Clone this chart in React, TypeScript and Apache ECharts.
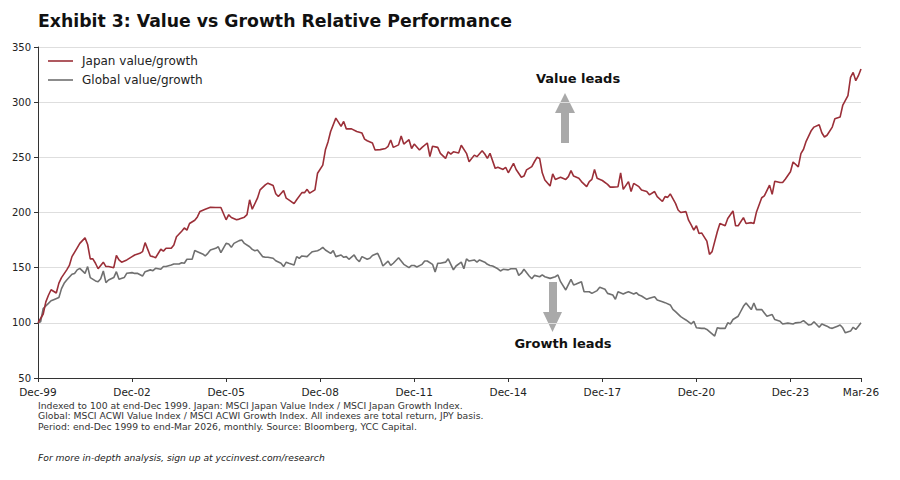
import React, { useEffect, useRef } from "react";
import * as echarts from "echarts";

// Months since end-Dec 1999, paired with the indexed value/growth ratio (Dec-99 = 100)
const japanValueGrowth: [number, number][] = [
  [0, 100], [2, 108], [3, 119], [4, 125], [5, 130], [7, 127], [8, 136], [9, 141], [11, 148], [12, 152],
  [13, 160], [15, 168], [16, 172], [18, 177], [19, 171], [20, 158], [21, 158], [22, 154], [23, 149], [25, 155],
  [26, 151], [27, 151], [29, 150], [30, 161], [31, 157], [32, 155], [34, 157], [36, 160], [37, 161.5], [39, 163],
  [40, 164.5], [41, 172.7], [43, 160.6], [44, 160], [45, 159], [47, 166.7], [48, 165], [49, 167.6], [51, 167.6], [52, 170.6],
  [53, 178], [55, 183], [56, 186], [57, 184], [58, 190], [60, 193], [61, 196], [62, 201], [64, 203], [66, 204.8],
  [68, 204.5], [70, 204.5], [72, 193.4], [73, 198], [74, 195.5], [76, 193.4], [77, 194], [79, 195.8], [80, 198], [81, 211.5],
  [82, 203], [84, 213], [85, 220.5], [87, 225], [88, 226.6], [90, 224.5], [91, 217], [92, 214.5], [94, 220], [95, 213],
  [96, 211.5], [98, 208], [99, 211.5], [101, 218], [102, 218], [103, 221], [104, 217.5], [106, 220.5], [107, 235.6], [109, 243],
  [110, 256.8], [111, 264], [112, 273.4], [114, 285.5], [116, 278], [117, 282.5], [118, 275.8], [120, 275.8], [122, 273.4], [124, 272],
  [125, 266.5], [126, 265], [128, 263], [129, 256.6], [131, 257], [133, 258], [134, 260], [135, 265.7], [136, 259], [138, 261.3],
  [139, 269.3], [140, 262], [142, 266], [143, 258], [144, 262], [146, 256.6], [147, 259], [149, 263], [150, 250.6], [151, 260],
  [153, 259], [154, 253.6], [156, 249], [157, 255], [158, 253], [159, 255], [161, 254], [162, 261], [164, 253.6], [165, 246],
  [167, 252], [168, 250.6], [170, 256], [171, 253], [172, 249], [173, 253.6], [175, 240], [176, 241], [178, 239], [179, 241],
  [180, 236], [182, 244.6], [183, 239], [185, 232], [186, 233], [187, 238.6], [189, 241.6], [190, 246], [191, 250], [192, 249],
  [193, 236], [194, 229.5], [196, 224], [197, 235], [198, 230], [200, 232], [202, 230], [203, 232.5], [204, 238], [205, 233],
  [207, 231], [208, 228], [210, 223.4], [211, 228], [212, 230], [213, 239], [214, 231], [216, 229], [218, 225.5], [219, 223],
  [220, 223], [222, 223.4], [223, 236], [224, 221], [226, 228], [227, 219], [228, 226.4], [230, 223.4], [231, 220.4], [233, 219],
  [234, 216], [236, 219], [237, 214.4], [239, 210], [240, 214.4], [241, 213.7], [242, 216.8], [244, 208.3], [245, 202.3], [246, 200],
  [248, 200.8], [249, 193], [250, 188.7], [251, 184], [252, 188], [253, 181], [254, 181.5], [256, 174], [257, 162], [258, 164.5],
  [260, 182.5], [261, 190], [263, 188], [264, 194.6], [266, 201.4], [267, 188], [268, 188], [270, 195.3], [271, 190], [273, 190.8],
  [274, 190], [275, 200.5], [277, 213.4], [278, 215], [280, 224.8], [281, 216.4], [282, 228.4], [284, 227.2], [285, 227.2], [286, 230.2],
  [288, 237], [289, 245.8], [291, 241.4], [292, 253.4], [293, 257.3], [294, 264.5], [296, 274.4], [297, 277.4], [299, 279.6], [300, 272.3],
  [301, 268.4], [302, 270], [304, 277.4], [305, 285], [307, 286.5], [308, 297], [310, 306], [311, 322.5], [312, 327], [313, 319.5],
  [314, 324], [315, 330],
];

const globalValueGrowth: [number, number][] = [
  [0, 100], [1, 101], [2, 113], [4, 117.6], [5, 120], [6, 121], [8, 123], [9, 131], [10, 135.8], [11, 138.8],
  [13, 144], [14, 144.8], [15, 148], [16, 149.4], [18, 144.8], [19, 151], [20, 141], [22, 138], [23, 137.3], [24, 140],
  [25, 147], [26, 136.4], [27, 138.8], [29, 141], [30, 146.4], [31, 139.4], [33, 141], [34, 145], [36, 145.5], [37, 144.8],
  [38, 145], [40, 142.4], [41, 146.4], [43, 148], [44, 147.3], [45, 149.4], [47, 148.5], [48, 151], [49, 151], [51, 152.4],
  [52, 153.3], [54, 153.3], [55, 154.5], [56, 154], [57, 157.6], [59, 157.6], [60, 165.5], [61, 164.5], [63, 162.4], [64, 160.6],
  [65, 163], [66, 166], [68, 167.5], [69, 169], [70, 163.6], [72, 172], [73, 171.5], [74, 168.4], [75, 172], [77, 174.5],
  [78, 175], [79, 172], [81, 169], [82, 166.6], [83, 165.4], [84, 166], [86, 160], [87, 159.4], [88, 159.4], [90, 158.5],
  [91, 156.3], [93, 154], [94, 151], [95, 155], [96, 154], [98, 152.4], [99, 160], [100, 158.5], [101, 160.6], [103, 160],
  [104, 162.4], [105, 164.5], [107, 165.4], [108, 166.6], [109, 168.4], [110, 166], [112, 163], [113, 165.4], [114, 160], [116, 161.5],
  [117, 159.4], [118, 160], [119, 157.6], [121, 161.5], [122, 157.6], [123, 155.4], [124, 160], [126, 157.6], [127, 158.5], [128, 161],
  [130, 163], [131, 158], [132, 151.5], [134, 156], [135, 152], [136, 154], [138, 159], [139, 156], [140, 153], [142, 150],
  [143, 152], [144, 152], [145, 150.6], [147, 153], [148, 156], [149, 156], [151, 153], [152, 146], [153, 154], [154, 154],
  [156, 155], [157, 158], [159, 148], [160, 151.5], [162, 155], [163, 149], [164, 158], [165, 156], [167, 157], [168, 155],
  [169, 157], [171, 155], [172, 153], [173, 152], [174, 151.5], [176, 149], [177, 147], [178, 148.5], [180, 148], [181, 149],
  [183, 149], [184, 143], [185, 145], [186, 148.5], [188, 142.5], [189, 140], [190, 143], [192, 141.8], [193, 143.4], [194, 141.8],
  [196, 140.3], [198, 141.8], [199, 143.4], [200, 137.3], [202, 129.8], [204, 139.4], [205, 134.3], [206, 135.2], [208, 137.3], [209, 128.2],
  [211, 128.2], [212, 126.7], [214, 129.2], [215, 132.2], [217, 130.4], [218, 126.7], [220, 125.2], [221, 121.3], [222, 128.2], [224, 126.1],
  [225, 127.3], [226, 128.2], [228, 126.1], [229, 127.3], [230, 125.2], [231, 124.3], [233, 121.3], [234, 122.2], [236, 123.7], [237, 120.7],
  [239, 119.2], [240, 118.3], [242, 116.2], [243, 112.2], [244, 110.1], [246, 105.6], [247, 104.1], [248, 102.6], [250, 99], [251, 101.5],
  [252, 95.5], [254, 95], [255, 95], [256, 94], [257, 92], [259, 88], [260, 95.5], [261, 95], [263, 95], [264, 100],
  [265, 99], [266, 103], [268, 106], [269, 110.5], [270, 115], [271, 118], [273, 112], [274, 118], [275, 112], [277, 112],
  [278, 109], [279, 106], [281, 107.5], [282, 103], [284, 101.5], [285, 99], [287, 99.7], [289, 99], [290, 100], [292, 100.6],
  [293, 102], [295, 98], [296, 98.5], [297, 101], [299, 96], [300, 99], [302, 97], [303, 95.5], [304, 95], [306, 97],
  [307, 98], [308, 95.5], [309, 91], [311, 92.5], [312, 96], [313, 94], [314, 97], [315, 100],
];

// Labelled months on the x axis (every third December, plus the last month)
const xTickMonths = [0, 36, 72, 108, 144, 180, 216, 252, 288, 315];
const yTicks = { min: 50, max: 350, step: 50 };

const seriesNames = ["Japan value/growth", "Global value/growth"];
const seriesColors = ["#9b2f38", "#707070"];

const titleText = "Exhibit 3: Value vs Growth Relative Performance";
const notes = [
  "Indexed to 100 at end-Dec 1999. Japan: MSCI Japan Value Index / MSCI Japan Growth Index.",
  "Global: MSCI ACWI Value Index / MSCI ACWI Growth Index. All indexes are total return, JPY basis.",
  "Period: end-Dec 1999 to end-Mar 2026, monthly. Source: Bloomberg, YCC Capital.",
];
const footer = "For more in-depth analysis, sign up at yccinvest.com/research";

const MONTHS = ["Jan", "Feb", "Mar", "Apr", "May", "Jun", "Jul", "Aug", "Sep", "Oct", "Nov", "Dec"];
function monthLabel(m: number): string {
  const total = 1999 * 12 + 11 + Math.round(m);
  const year = Math.floor(total / 12);
  const month = total % 12;
  return `${MONTHS[month]}-${String(year % 100).padStart(2, "0")}`;
}

const FONT = "DejaVu Sans";
// Thin horizontal bar used as the legend's line swatch
const LINE_ICON = "path://M0,0H25V1.6H0Z";

export default function App() {
  const ref = useRef<HTMLDivElement>(null);

  useEffect(() => {
    if (!ref.current) return;
    const chart = echarts.init(ref.current, null, { renderer: "svg" });

    const arrowColor = "#a9a9a9";

    chart.setOption({
      animation: false,
      backgroundColor: "#ffffff",
      textStyle: { fontFamily: FONT },
      grid: { left: 38, right: 39, top: 47, bottom: 102, containLabel: false },
      legend: {
        left: 43,
        top: 50,
        orient: "vertical",
        icon: LINE_ICON,
        itemWidth: 25,
        itemHeight: 14,
        itemGap: 7,
        textStyle: { fontSize: 12, color: "#222", fontFamily: FONT, padding: [0, 0, 0, 4] },
        data: seriesNames,
      },
      xAxis: {
        type: "value",
        min: 0,
        max: 315,
        axisLine: { show: true, lineStyle: { color: "#333", width: 1 } },
        axisTick: { show: true, length: 4, lineStyle: { color: "#333" }, customValues: xTickMonths },
        axisLabel: {
          fontSize: 10.5,
          color: "#222",
          margin: 8,
          fontFamily: FONT,
          customValues: xTickMonths,
          formatter: (v: number) => monthLabel(v),
        },
        splitLine: { show: false },
      },
      yAxis: {
        type: "value",
        min: yTicks.min,
        max: yTicks.max,
        interval: yTicks.step,
        axisLine: { show: true, lineStyle: { color: "#333", width: 1 } },
        axisTick: { show: true, length: 4, lineStyle: { color: "#333" } },
        axisLabel: { fontSize: 10, color: "#222", margin: 7, fontFamily: FONT },
        splitLine: { show: true, lineStyle: { color: "#dedede", width: 1 } },
      },
      series: [
        {
          name: seriesNames[0],
          type: "line",
          data: japanValueGrowth,
          symbol: "none",
          lineStyle: { color: seriesColors[0], width: 1.6 },
          itemStyle: { color: seriesColors[0] },
          z: 3,
        },
        {
          name: seriesNames[1],
          type: "line",
          data: globalValueGrowth,
          symbol: "none",
          lineStyle: { color: seriesColors[1], width: 1.6 },
          itemStyle: { color: seriesColors[1] },
          z: 2,
        },
      ],
      graphic: [
        {
          type: "text",
          left: 38,
          top: 12,
          style: { text: titleText, fontSize: 17.3, fontWeight: "bold", fill: "#111", fontFamily: FONT },
        },
        {
          type: "text",
          x: 578,
          y: 78,
          style: { text: "Value leads", fontSize: 13, fontWeight: "bold", fill: "#111", fontFamily: FONT, align: "center", verticalAlign: "middle" },
        },
        {
          type: "polygon",
          shape: { points: [[565, 93], [575, 113], [569, 113], [569, 143], [561, 143], [561, 113], [555, 113]] },
          style: { fill: arrowColor },
        },
        {
          type: "polygon",
          shape: { points: [[552.5, 332], [562, 312], [557, 312], [557, 282], [549, 282], [549, 312], [543, 312]] },
          style: { fill: arrowColor },
        },
        {
          type: "text",
          x: 563,
          y: 343,
          style: { text: "Growth leads", fontSize: 13, fontWeight: "bold", fill: "#111", fontFamily: FONT, align: "center", verticalAlign: "middle" },
        },
        ...notes.map((t, i) => ({
          type: "text",
          x: 38,
          y: 405 + i * 10.5,
          style: { text: t, fontSize: 9.25, fill: "#333", fontFamily: FONT, verticalAlign: "middle" },
        })),
        {
          type: "text",
          x: 38,
          y: 457,
          style: { text: footer, fontSize: 9.2, fontStyle: "italic", fill: "#222", fontFamily: FONT, verticalAlign: "middle" },
        },
      ],
    });

    return () => chart.dispose();
  }, []);

  return (
    <div
      ref={ref}
      style={{ position: "fixed", left: 0, top: 0, width: 900, height: 480, background: "#fff" }}
    />
  );
}
